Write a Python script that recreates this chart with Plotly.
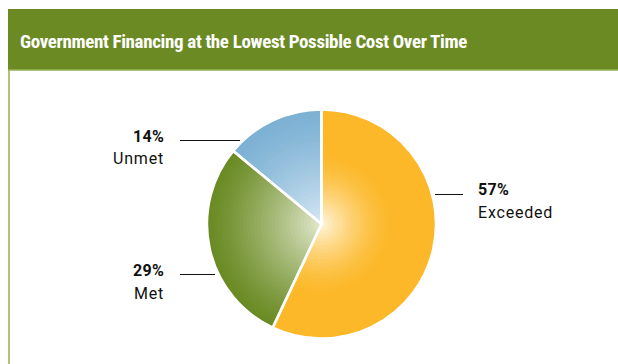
import plotly.graph_objects as go

# Chart data
categories = ["Exceeded", "Met", "Unmet"]
values = [57, 29, 14]
pct_labels = ["57%", "29%", "14%"]
title_text = "Government Financing at the Lowest Possible Cost Over Time"

# Slice colours: light centre -> saturated rim
inner_colors = [(255, 247, 226), (228, 234, 208), (216, 232, 244)]
outer_colors = [(252, 184, 40), (106, 139, 36), (124, 177, 212)]
# radius fraction where each slice reaches its full colour, and curve shape
full_at = [0.65, 1.0, 1.0]
curve = [1.6, 1.25, 1.3]

W, H = 618, 364
CX, CY, R = 321.5, 224.0, 114.5
N_RINGS = 32


def px_x(x):
    return x / W


def px_y(y):
    return 1 - y / H


def mix(c0, c1, t):
    return "rgb(%d,%d,%d)" % tuple(round(a + (b - a) * t) for a, b in zip(c0, c1))


def ease(t, full, k):
    s = min(1.0, t / full)
    return 1 - (1 - s) ** k


fig = go.Figure()

# stacked discs from the rim inward to build a radial shading
for i in range(N_RINGS, 0, -1):
    frac = i / N_RINGS
    r = R * frac
    cols = [mix(inner_colors[j], outer_colors[j], ease(frac, full_at[j], curve[j]))
            for j in range(len(values))]
    fig.add_trace(go.Pie(
        values=values, labels=categories, sort=False, direction="clockwise",
        rotation=0, textinfo="none", hoverinfo="skip", showlegend=False,
        marker=dict(colors=cols, line=dict(width=0)),
        domain=dict(x=[px_x(CX - r), px_x(CX + r)], y=[px_y(CY + r), px_y(CY - r)]),
    ))

# white slice separators on top
fig.add_trace(go.Pie(
    values=values, labels=categories, sort=False, direction="clockwise",
    rotation=0, textinfo="none", hoverinfo="label+percent", showlegend=False,
    marker=dict(colors=["rgba(0,0,0,0)"] * 3, line=dict(color="white", width=2.5)),
    domain=dict(x=[px_x(CX - R), px_x(CX + R)], y=[px_y(CY + R), px_y(CY - R)]),
))

GREEN = "#6b8a23"
BORDER = "#93b256"
shapes = [
    dict(type="rect", xref="paper", yref="paper", x0=px_x(8), x1=1.01,
         y0=px_y(70), y1=px_y(9), fillcolor=GREEN, line=dict(width=0), layer="below"),
    dict(type="line", xref="paper", yref="paper", x0=px_x(8), x1=1.01,
         y0=px_y(70), y1=px_y(70), line=dict(color=BORDER, width=1.5)),
    dict(type="line", xref="paper", yref="paper", x0=px_x(9), x1=px_x(9),
         y0=px_y(70), y1=-0.01, line=dict(color=BORDER, width=1.5)),
    # leader lines
    dict(type="line", xref="paper", yref="paper", x0=px_x(435), x1=px_x(463),
         y0=px_y(194.5), y1=px_y(194.5), line=dict(color="#111", width=1)),
    dict(type="line", xref="paper", yref="paper", x0=px_x(180), x1=px_x(215),
         y0=px_y(274.5), y1=px_y(274.5), line=dict(color="#111", width=1)),
    dict(type="line", xref="paper", yref="paper", x0=px_x(180), x1=px_x(240),
         y0=px_y(140.5), y1=px_y(140.5), line=dict(color="#111", width=1)),
]

TITLE_FONT = "Roboto Condensed, Roboto, DejaVu Sans, sans-serif"
LABEL_FONT = "Roboto, DejaVu Sans, sans-serif"
annotations = [
    dict(text='<span style="font-stretch:condensed;letter-spacing:-0.35px"><b>%s</b></span>'
         % title_text,
         x=px_x(18), y=px_y(41), xanchor="left",
         yanchor="middle", showarrow=False,
         font=dict(family=TITLE_FONT, size=19, color="white")),
]
# label positions: (x, anchor, y of percent line, y of name line)
label_pos = [(476, "left", 189, 212), (166, "right", 270, 293), (166, "right", 136, 158)]
for (x, anc, yp, yn), pct, name in zip(label_pos, pct_labels, categories):
    annotations.append(dict(text='<span style="letter-spacing:0.3px"><b>%s</b></span>' % pct,
                            x=px_x(x), y=px_y(yp), xanchor=anc,
                            yanchor="middle", showarrow=False,
                            font=dict(family=LABEL_FONT, size=16, color="#111")))
    annotations.append(dict(text='<span style="letter-spacing:0.8px">%s</span>' % name,
                            x=px_x(x), y=px_y(yn), xanchor=anc,
                            yanchor="middle", showarrow=False,
                            font=dict(family=LABEL_FONT, size=16, color="#111")))

fig.update_layout(
    width=W, height=H, margin=dict(l=0, r=0, t=0, b=0),
    paper_bgcolor="white", plot_bgcolor="white",
    shapes=shapes, annotations=annotations,
)

fig.write_html("out.html", config={"displayModeBar": False})
